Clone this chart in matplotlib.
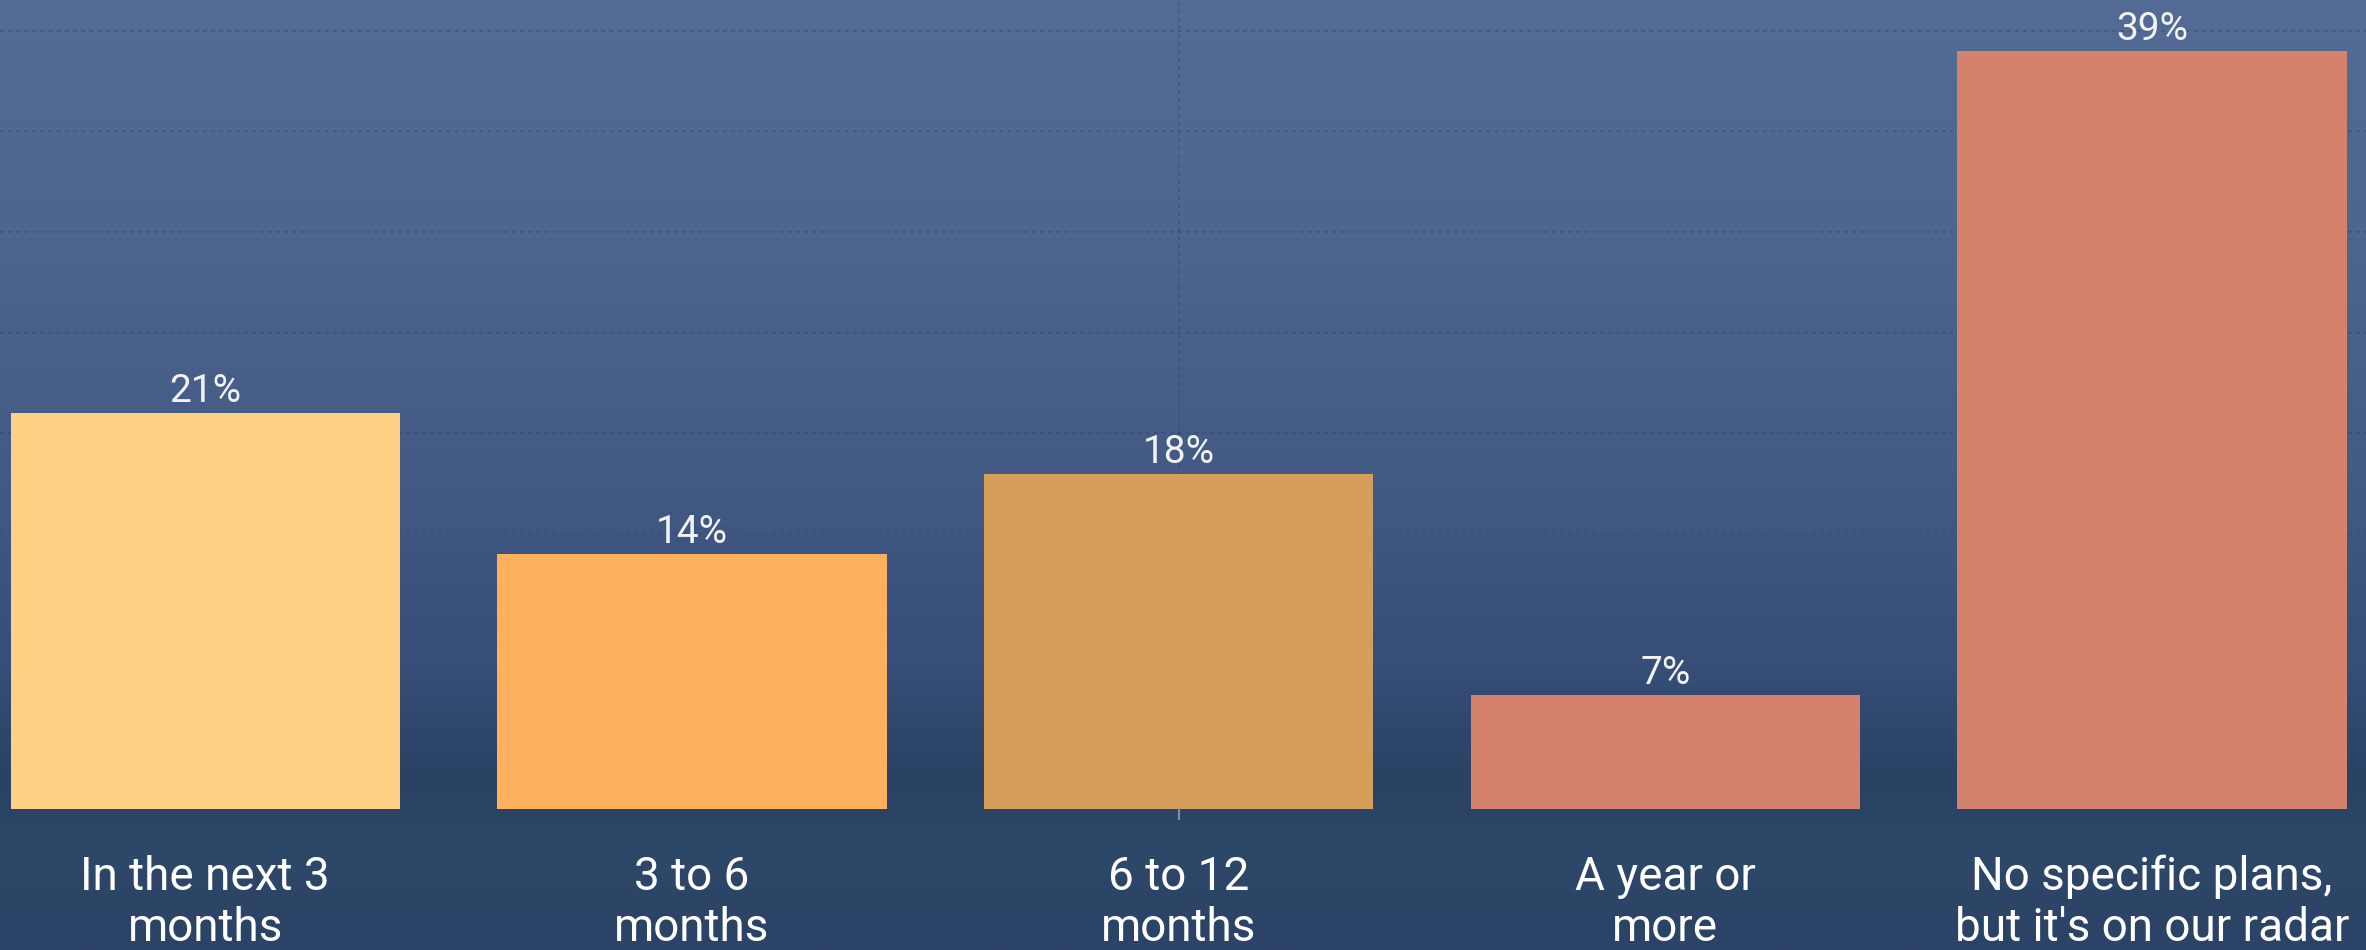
import numpy as np
import matplotlib
matplotlib.use("Agg")
import matplotlib.pyplot as plt
from matplotlib.colors import LinearSegmentedColormap

categories = ["In the next 3\nmonths", "3 to 6\nmonths", "6 to 12\nmonths",
              "A year or\nmore", "No specific plans,\nbut it's on our radar"]
values = [21, 14, 18, 7, 39]
value_labels = ["21%", "14%", "18%", "7%", "39%"]
bar_colors = ["#FED184", "#FFB05E", "#D69E5A", "#D4826C", "#D4826C"]
grid_values = [5, 10, 15, 20, 25, 30, 35, 40]

W, H, DPI = 2366, 950, 100
fig = plt.figure(figsize=(W / DPI, H / DPI), dpi=DPI)

# background (sea-like vertical gradient)
bg = fig.add_axes([0, 0, 1, 1])
bg.set_axis_off()
cmap = LinearSegmentedColormap.from_list(
    "sea",
    [(0.0, "#536b95"), (0.25, "#4d658f"), (0.5, "#425a84"),
     (0.7, "#374f78"), (0.82, "#2a4264"), (0.9, "#2e4869"), (1.0, "#2b4366")])
grad = np.linspace(0, 1, 512).reshape(-1, 1)
bg.imshow(grad, aspect="auto", cmap=cmap, extent=[0, 1, 0, 1], origin="upper")
bg.set_xlim(0, 1)
bg.set_ylim(0, 1)

ax_bottom = 1 - 809 / H
ax = fig.add_axes([0, ax_bottom, 1, 1 - ax_bottom])
ax.patch.set_alpha(0)
x = np.arange(len(categories))
ax.set_xlim(-0.4216, 4.44)
ax.set_ylim(1.34, 41.53)

for g in grid_values:
    ax.axhline(g, color="#2b4066", alpha=0.4, lw=1.3,
               linestyle=(0, (2, 2.5)), zorder=1)
ax.axvline(2, color="#2b4066", alpha=0.4, lw=1.3,
           linestyle=(0, (2, 2.5)), zorder=1)

ax.bar(x, values, width=0.8, color=bar_colors, bottom=0, zorder=2)

for xi, v, lab in zip(x, values, value_labels):
    ax.annotate(lab, (xi, v), xytext=(0, 8), textcoords="offset points",
                ha="center", va="baseline", color="#f2f2f2",
                fontsize=28, family=["Roboto", "DejaVu Sans"], zorder=3)

for xi, cat in zip(x, categories):
    ax.annotate(cat, (xi, 1.34), xytext=(0, -33), textcoords="offset points",
                ha="center", va="top", color="white", fontsize=33,
                linespacing=1.2, family=["Roboto", "DejaVu Sans"],
                annotation_clip=False)

# small tick below middle category
ax.plot([2, 2], [1.34, 1.34 - 10 / 20.13], color="#8a8f99", lw=1.5,
        clip_on=False, zorder=3)

for s in ax.spines.values():
    s.set_visible(False)
ax.set_xticks([])
ax.set_yticks([])

fig.savefig("out.png", dpi=DPI)
